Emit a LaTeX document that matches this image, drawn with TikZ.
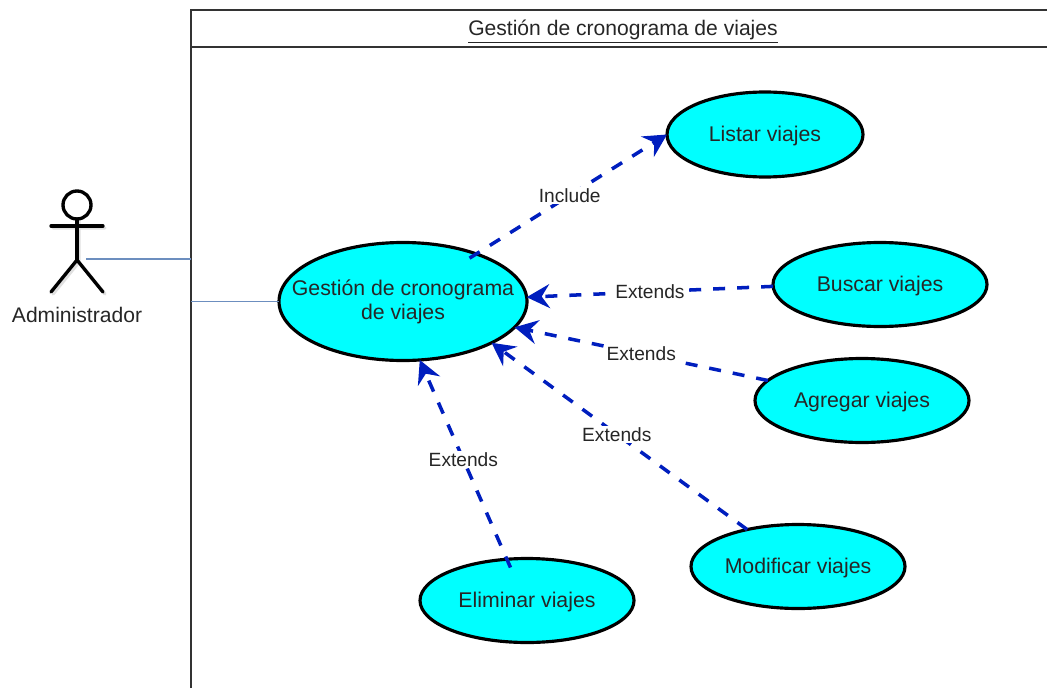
\documentclass[tikz,border=0pt]{standalone}
\usepackage{fontspec}
\setmainfont{Liberation Sans}
\usetikzlibrary{shapes.geometric}
\usetikzlibrary{arrows.meta}
\definecolor{linkblue}{RGB}{108,142,191}
\definecolor{depblue}{RGB}{0,30,190}
\definecolor{caseblue}{RGB}{0,255,255}
\tikzset{
	usecase/.style={ellipse,draw=black,fill=caseblue,line width=1.8pt,inner sep=0pt,outer sep=0pt,align=center,text=black!85,text height=0.37cm,text depth=0.08cm,font=\fontsize{12.1}{13.6}\selectfont},
	depend/.style={draw=depblue,line width=2pt,dash pattern=on 0.24cm off 0.24cm,-{Stealth[length=0.46cm,width=0.48cm,inset=0.16cm]}},
	deplabel/.style={fill=white,inner sep=1pt,text=black!85,font=\fontsize{10.9}{12}\selectfont},
	actorline/.style={line width=1.9pt,line cap=round},
	frameline/.style={draw=black!80,line width=1.1pt},
	link/.style={draw=linkblue,line width=0.7pt}
}
\begin{document}
\begin{tikzpicture}
	\useasboundingbox (0,0) rectangle (20.94,13.76);
	% frame
	\draw[frameline] (3.82,0) -- (3.82,13.56) -- (20.94,13.56);
	\draw[frameline] (3.82,12.82) -- (20.94,12.82);
	\node[text=black!85] (title) at (12.46,13.12) {\fontsize{12}{14}\selectfont\underline{Gestión de cronograma de viajes}};
	% actor
	\draw[actorline,black!12] (1.58,9.34) -- (1.58,8.52) (1.06,9.2) -- (2.1,9.2) (1.06,7.88) -- (1.58,8.52) -- (2.1,7.88);
	\draw[actorline] (1.54,9.66) circle (0.28);
	\draw[actorline] (1.54,9.38) -- (1.54,8.56);
	\draw[actorline] (1.02,9.24) -- (2.06,9.24);
	\draw[actorline] (1.02,7.92) -- (1.54,8.56) -- (2.06,7.92);
	\node[text=black!85,font=\fontsize{12}{14}\selectfont] (admin) at (1.54,7.46) {Administrador};
	% use cases
	\node[usecase,text height=,text depth=,inner sep=-0.5cm,minimum width=4.96cm,minimum height=2.36cm] (gestion) at (8.06,7.73) {Gestión de cronograma\\de viajes};
	\node[usecase,minimum width=3.92cm,minimum height=1.7cm] (listar) at (15.3,11.07) {Listar viajes};
	\node[usecase,minimum width=4.28cm,minimum height=1.68cm] (buscar) at (17.6,8.07) {Buscar viajes};
	\node[usecase,minimum width=4.28cm,minimum height=1.68cm] (agregar) at (17.24,5.75) {Agregar viajes};
	\node[usecase,minimum width=4.28cm,minimum height=1.68cm] (modificar) at (15.96,2.43) {Modificar viajes};
	\node[usecase,minimum width=4.28cm,minimum height=1.68cm] (eliminar) at (10.54,1.75) {Eliminar viajes};
	% lines to the frame
	\coordinate (hand) at (1.72,8.58);
	\coordinate (wall) at (3.82,8.58);
	\coordinate (wallb) at (3.82,7.73);
	\draw[link] (hand) -- (wall);
	\draw[link] (wallb) -- (gestion.west);
	% dependencies
	\draw[depend,shorten <=-0.16cm] (gestion.33) -- (listar.west) node[deplabel,pos=0.49] (include) {Include};
	\draw[depend] (buscar.181) -- (gestion.2) node[deplabel,pos=0.5] (extb) {Extends};
	\draw[depend] (agregar.168) -- (gestion.-13) node[deplabel,pos=0.5] (exta) {Extends};
	\draw[depend] (modificar.144) -- (gestion.-25) node[deplabel,pos=0.51] (extm) {Extends};
	\draw[depend,shorten <=-0.18cm] (eliminar.116) -- (gestion.-74) node[deplabel,pos=0.5] (exte) {Extends};
\end{tikzpicture}
\end{document}
